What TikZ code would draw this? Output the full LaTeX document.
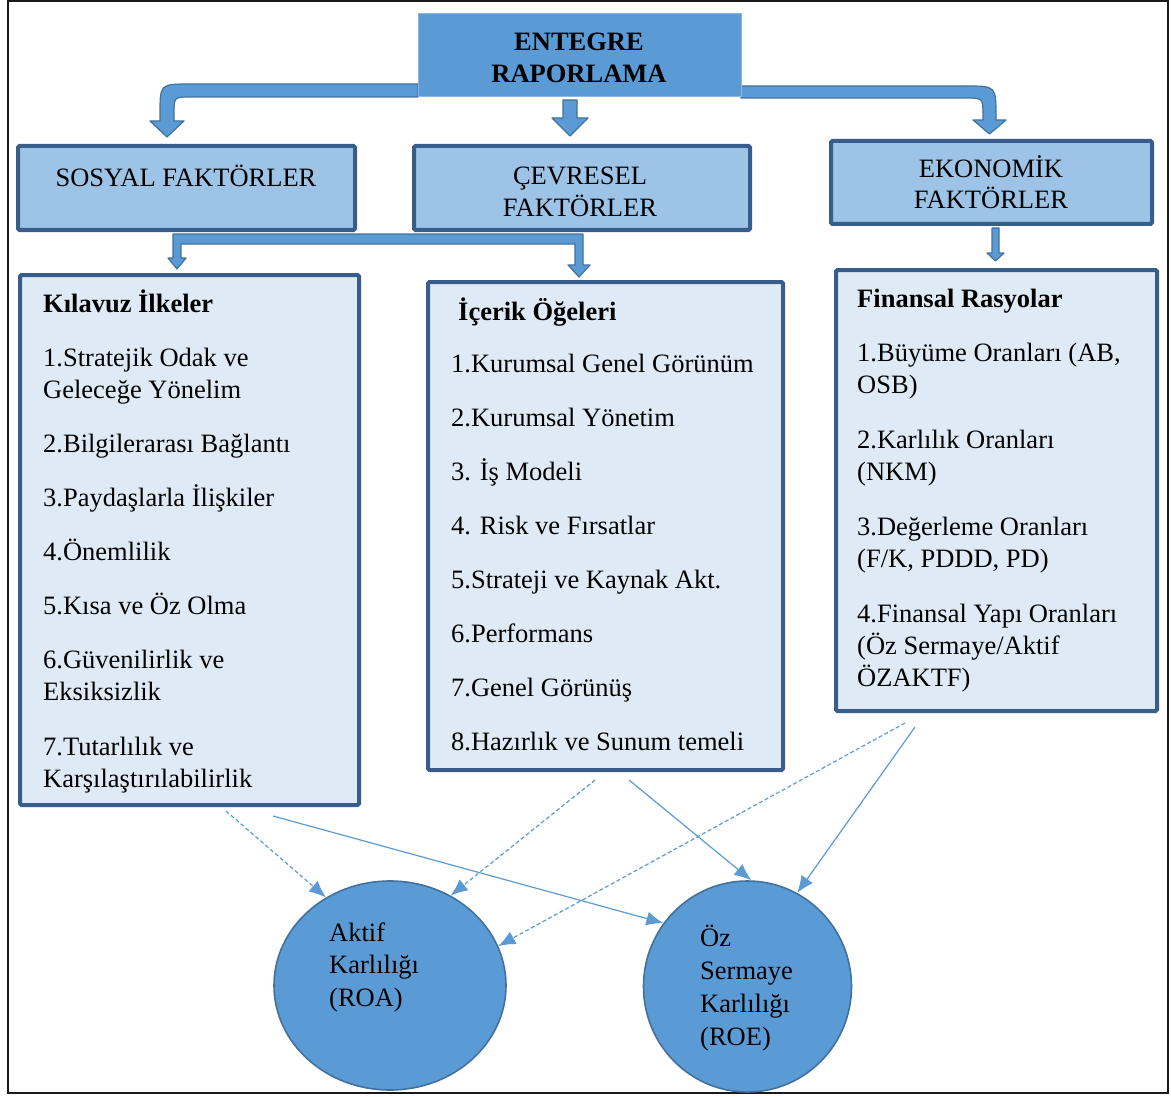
\documentclass[tikz,border=0pt]{standalone}
\usepackage{fontspec}
\setmainfont{Liberation Serif}
\usetikzlibrary{shapes.geometric,arrows.meta}
\definecolor{midblue}{HTML}{5B9BD5}
\definecolor{edgeblue}{HTML}{41719C}
\definecolor{boxblue}{HTML}{9DC3E6}
\definecolor{paleblue}{HTML}{DEEBF7}
\definecolor{navy}{HTML}{385D8A}
\definecolor{lightedge}{HTML}{8DB6E0}

\tikzset{
  factorbox/.style={draw=navy, line width=4pt, fill=boxblue, rounded corners=1.5pt, inner sep=0pt},
  listbox/.style={draw=navy, line width=4pt, fill=paleblue, rounded corners=1.5pt, inner sep=0pt},
  topbox/.style={draw=lightedge, line width=1pt, fill=midblue, inner sep=0pt},
  blockarrow/.style={fill=midblue, draw=edgeblue, line width=1.2pt, line join=round},
  txt/.style={font=\fontsize{26.5}{32}\selectfont, inner sep=0pt, anchor=base west},
  boldtxt/.style={txt, font=\fontsize{26.5}{32}\selectfont\bfseries},
  ctxt/.style={font=\fontsize{26.5}{32}\selectfont, inner sep=0pt, anchor=base},
  cboldtxt/.style={ctxt, font=\fontsize{26.5}{32}\selectfont\bfseries},
  link/.style={draw=midblue, line width=1.2pt, -{Latex[length=17pt,width=14pt]}},
  dlink/.style={link, dash pattern=on 4pt off 2.5pt},
  ratiocircle/.style={ellipse, draw=edgeblue, line width=1.6pt, fill=midblue, inner sep=0pt},
}

\begin{document}
\begin{tikzpicture}[x=1pt,y=-1pt]
\useasboundingbox (0,0) rectangle (1171,1097);
\fill[white] (0,0) rectangle (1171,1097);

% outer frame
\draw[line width=2pt, black!90] (8,1.5) rectangle (1168,1093);

% block arrows leaving the top box
\draw[blockarrow] (418,84) -- (190,84) .. controls (160,84) .. (160,114) -- (160,121) -- (150,121)
  -- (167,137) -- (184,121) -- (174,121) -- (174,114) .. controls (174,97) .. (191,97) -- (418,97) -- cycle;
\draw[blockarrow] (563,100) -- (577,100) -- (577,118) -- (588,118) -- (570,136) -- (552,118) -- (563,118) -- cycle;
\draw[blockarrow] (741,86) -- (966,86) .. controls (996,86) .. (996,116) -- (996,120) -- (1006,120)
  -- (989.5,134) -- (973,120) -- (983,120) -- (983,116) .. controls (983,98) .. (965,98) -- (741,98) -- cycle;

% forked arrow below the social and environmental boxes
\draw[blockarrow] (173,234) -- (583,234) -- (583,265) -- (590,265) -- (579,277) -- (568,265) -- (575,265)
  -- (575,244) -- (181,244) -- (181,258) -- (186,258) -- (177,269) -- (168,258) -- (173,258) -- cycle;
% arrow below the economic box
\draw[blockarrow] (992,228) -- (999,228) -- (999,253) -- (1004,253) -- (995.5,261) -- (987,253) -- (992,253) -- cycle;

% top box
\node[topbox, minimum width=323pt, minimum height=83pt] (entegre) at (579.5,55.5) {};
\node[cboldtxt] (entegre1) at (579,51) {ENTEGRE};
\node[cboldtxt] (entegre2) at (579,83) {RAPORLAMA};

% factor boxes
\node[factorbox, minimum width=337pt, minimum height=84pt] (sosyal) at (186.5,188) {};
\node[ctxt] (sosyal1) at (186,187) {SOSYAL FAKTÖRLER};

\node[factorbox, minimum width=336pt, minimum height=84pt] (cevre) at (582,188) {};
\node[ctxt] (cevre1) at (580,185) {ÇEVRESEL};
\node[ctxt] (cevre2) at (580,216) {FAKTÖRLER};

\node[factorbox, minimum width=321pt, minimum height=83pt] (ekonomik) at (991.5,182.5) {};
\node[ctxt] (ekonomik1) at (991,178) {EKONOMİK};
\node[ctxt] (ekonomik2) at (991,209) {FAKTÖRLER};

% list boxes
\node[listbox, minimum width=339pt, minimum height=530pt] (kilavuz) at (189.5,540) {};
\node[boldtxt] (kilavuzbaslik) at (43,312) {Kılavuz İlkeler};
\foreach \yy/\itemtext [count=\i] in {366/{1.Stratejik Odak ve}, 398/{Geleceğe Yönelim},
  452/{2.Bilgilerarası Bağlantı}, 506/{3.Paydaşlarla İlişkiler}, 560/{4.Önemlilik},
  614/{5.Kısa ve Öz Olma}, 668/{6.Güvenilirlik ve}, 700/{Eksiksizlik},
  755/{7.Tutarlılık ve}, 787/{Karşılaştırılabilirlik}}
  \node[txt] (kilavuz\i) at (43,\yy) {\itemtext};

\node[listbox, minimum width=355pt, minimum height=488pt] (icerik) at (605.5,526) {};
\node[boldtxt] (icerikbaslik) at (458,320) {İçerik Öğeleri};
\foreach \yy/\itemtext [count=\i] in {372/{1.Kurumsal Genel Görünüm}, 426/{2.Kurumsal Yönetim},
  480/{3. İş Modeli}, 534/{4. Risk ve Fırsatlar}, 588/{5.Strateji ve Kaynak Akt.},
  642/{6.Performans}, 696/{7.Genel Görünüş}, 750/{8.Hazırlık ve Sunum temeli}}
  \node[txt] (icerik\i) at (451,\yy) {\itemtext};

\node[listbox, minimum width=321pt, minimum height=441pt] (finansal) at (996.5,490.5) {};
\node[boldtxt] (finansalbaslik) at (857,307) {Finansal Rasyolar};
\foreach \yy/\itemtext [count=\i] in {361/{1.Büyüme Oranları (AB,}, 393/{OSB)},
  448/{2.Karlılık Oranları}, 480/{(NKM)}, 535/{3.Değerleme Oranları}, 567/{(F/K, PDDD, PD)},
  622/{4.Finansal Yapı Oranları}, 654/{(Öz Sermaye/Aktif}, 686/{ÖZAKTF)}}
  \node[txt] (finansal\i) at (857,\yy) {\itemtext};

% profitability measures
\node[ratiocircle, minimum width=232pt, minimum height=209pt] (roa) at (390,985.5) {};
\node[txt] (roa1) at (329,941) {Aktif};
\node[txt] (roa2) at (329,973) {Karlılığı};
\node[txt] (roa3) at (329,1006) {(ROA)};

\node[ratiocircle, minimum width=208pt, minimum height=211pt] (roe) at (747.5,986.5) {};
\node[txt] (roe1) at (700,946) {Öz};
\node[txt] (roe2) at (700,979) {Sermaye};
\node[txt] (roe3) at (700,1012) {Karlılığı};
\node[txt] (roe4) at (700,1045) {(ROE)};

% links from the lists to the measures
\coordinate (kilA) at (226,811);
\coordinate (kilB) at (273,816);
\coordinate (icA) at (595,780);
\coordinate (icB) at (629,780);
\coordinate (finA) at (905,723);
\coordinate (finB) at (915,727);

\draw[dlink] (kilA) -- (roa.126);
\draw[link] (kilB) -- (roe.143);
\draw[dlink] (icA) -- (roa.56);
\draw[link] (icB) -- (roe.88);
\draw[dlink] (finA) -- (roa.20);
\draw[link] (finB) -- (roe.62);
\end{tikzpicture}
\end{document}
